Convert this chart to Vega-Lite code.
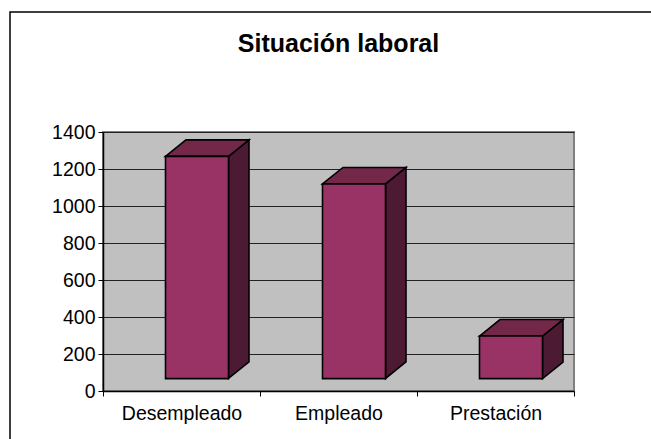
{"$schema":"https://vega.github.io/schema/vega-lite/v6.json","width":471,"height":259,"autosize":"none","padding":{"left":103,"top":132,"right":77,"bottom":48},"background":"white","view":{"fill":"#c0c0c0","stroke":"#808080","strokeWidth":2},"title":{"text":"Situación laboral","font":"Liberation Sans","fontSize":25,"fontWeight":"bold","color":"black","anchor":"middle","offset":-46},"data":{"values":[{"categoria":"Desempleado","valor":1268},{"categoria":"Empleado","valor":1119},{"categoria":"Prestación","valor":297}]},"encoding":{"x":{"field":"categoria","type":"nominal","sort":null,"scale":{"paddingInner":0,"paddingOuter":0},"axis":{"title":null,"labelAngle":0,"labelFont":"Liberation Sans","labelFontSize":19.5,"labelColor":"black","labelPadding":8,"tickColor":"black","tickSize":5,"tickBand":"extent","domainColor":"black","domainWidth":1.5,"grid":false}},"y":{"field":"valor","type":"quantitative","scale":{"domain":[0,1400]},"axis":{"title":null,"values":[0,200,400,600,800,1000,1200,1400],"format":"d","labelOverlap":false,"labelFont":"Liberation Sans","labelFontSize":19.5,"labelColor":"black","labelPadding":3,"tickColor":"black","tickSize":5,"domainColor":"black","domainWidth":1.5,"grid":true,"gridColor":"#222222","gridWidth":1,"gridOpacity":1}}},"layer":[{"mark":{"type":"point","filled":true,"size":4,"opacity":1,"fill":"#4d1a33","stroke":"black","strokeWidth":1.6},"encoding":{"shape":{"field":"categoria","type":"nominal","sort":null,"legend":null,"scale":{"domain":["Desempleado","Empleado","Prestación"],"range":["M47,0L67.5,-16.5L67.5,205.5L47,222Z","M47,0L67.5,-16.5L67.5,178L47,194.5Z","M47,0L67.5,-16.5L67.5,26L47,42.5Z"]}}}},{"mark":{"type":"point","filled":true,"size":4,"opacity":1,"fill":"#732849","stroke":"black","strokeWidth":1.6,"shape":"M-16,0L4.5,-16.5L67.5,-16.5L47,0Z"}},{"mark":{"type":"bar","size":63,"xOffset":15.5,"fill":"#993366","stroke":"black","strokeWidth":1.6},"encoding":{"y2":{"datum":67}}},{"data":{"values":[{"marco":"exterior"}]},"mark":{"type":"rect","fill":null,"stroke":"black","strokeWidth":1.5,"clip":false},"encoding":{"x":{"value":-93},"x2":{"value":620},"y":{"value":-120},"y2":{"value":340}}}]}
